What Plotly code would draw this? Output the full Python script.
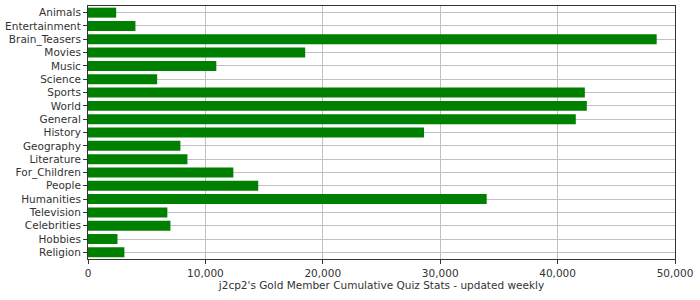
import plotly.graph_objects as go

categories = [
    "Animals", "Entertainment", "Brain_Teasers", "Movies", "Music", "Science",
    "Sports", "World", "General", "History", "Geography", "Literature",
    "For_Children", "People", "Humanities", "Television", "Celebrities",
    "Hobbies", "Religion",
]
scores = [
    2400, 4040, 48440, 18500, 10930, 5890,
    42320, 42490, 41550, 28620, 7870, 8470,
    12380, 14500, 33960, 6760, 7020,
    2510, 3100,
]
x_tick_values = [0, 10000, 20000, 30000, 40000, 50000]
axis_title = "j2cp2's Gold Member Cumulative Quiz Stats - updated weekly"

fig = go.Figure(
    go.Bar(
        x=scores,
        y=categories,
        orientation="h",
        marker=dict(color="#008000", line=dict(width=0)),
        width=0.75,
    )
)

axis_common = dict(
    showline=True,
    linecolor="#333333",
    linewidth=1,
    mirror=True,
    ticks="outside",
    ticklen=4,
    tickcolor="#333333",
    showgrid=True,
    gridcolor="#c0c0c0",
    gridwidth=1,
    zeroline=False,
    automargin=False,
)

fig.update_xaxes(
    range=[0, 50000],
    tickvals=x_tick_values,
    tickformat=",d",
    title=dict(text=axis_title, standoff=2, font=dict(size=10.5, color="#333333")),
    **axis_common,
)
fig.update_yaxes(
    categoryorder="array",
    categoryarray=categories,
    autorange="reversed",
    **axis_common,
)

fig.update_layout(
    width=700,
    height=300,
    margin=dict(l=88, r=25, t=6, b=41),
    paper_bgcolor="white",
    plot_bgcolor="white",
    font=dict(family="DejaVu Sans", size=10.5, color="#333333"),
    showlegend=False,
    bargap=0.25,
)

fig.write_html("out.html")
